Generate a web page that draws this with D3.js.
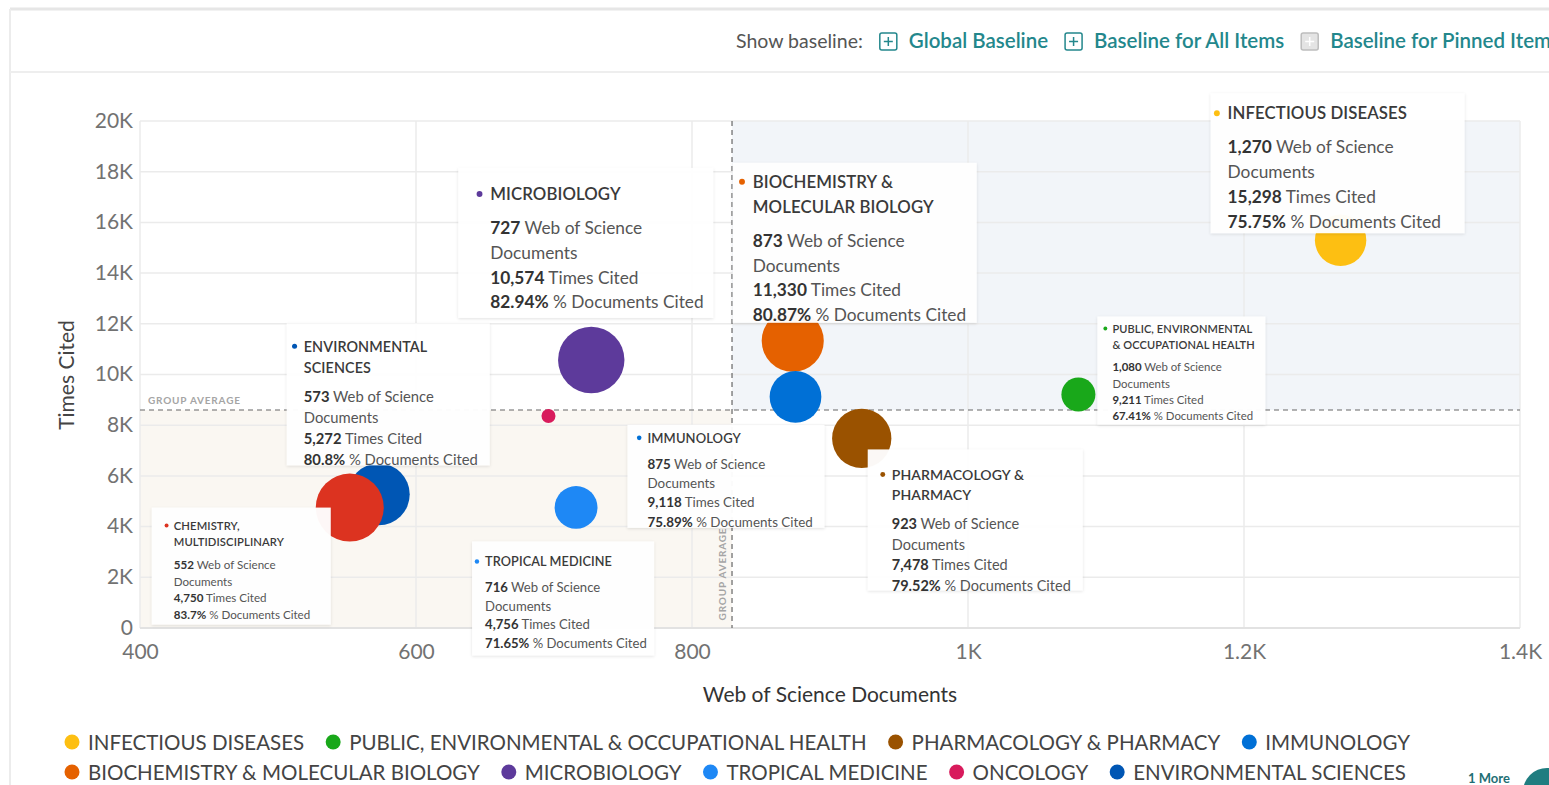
<!DOCTYPE html>
<html>
<head>
<meta charset="utf-8">
<script src="https://d3js.org/d3.v7.min.js"></script>
<style>
  body { margin: 0; background: #fff; }
  svg text { font-family: Lato, "Noto Sans", sans-serif; }
</style>
</head>
<body>
<div id="container"></div>
<script>
// ---- data ----
var categories = ["INFECTIOUS DISEASES", "PUBLIC, ENVIRONMENTAL & OCCUPATIONAL HEALTH", "PHARMACOLOGY & PHARMACY",
  "IMMUNOLOGY", "BIOCHEMISTRY & MOLECULAR BIOLOGY", "MICROBIOLOGY", "TROPICAL MEDICINE", "ONCOLOGY",
  "ENVIRONMENTAL SCIENCES", "CHEMISTRY, MULTIDISCIPLINARY"];
var documents = [1270, 1080, 923, 875, 873, 727, 716, 696, 573, 552];
var timesCited = [15298, 9211, 7478, 9118, 11330, 10574, 4756, 8360, 5272, 4750];
var pctCited = [75.75, 67.41, 79.52, 75.89, 80.87, 82.94, 71.65, 57.8, 80.8, 83.7];
var colors = ["#fdbf12", "#19a81a", "#9a5200", "#0070d6", "#e56100", "#5d3a9b", "#1e88f5", "#d81b5c", "#0056b4", "#dc3320"];
var titleLines = [["INFECTIOUS DISEASES"], ["PUBLIC, ENVIRONMENTAL", "& OCCUPATIONAL HEALTH"], ["PHARMACOLOGY &", "PHARMACY"],
  ["IMMUNOLOGY"], ["BIOCHEMISTRY &", "MOLECULAR BIOLOGY"], ["MICROBIOLOGY"], ["TROPICAL MEDICINE"], null,
  ["ENVIRONMENTAL", "SCIENCES"], ["CHEMISTRY,", "MULTIDISCIPLINARY"]];
var xTicks = [400, 600, 800, 1000, 1200, 1400];
var yTicks = [0, 2000, 4000, 6000, 8000, 10000, 12000, 14000, 16000, 18000, 20000];
var avgDocuments = 829;
var avgTimesCited = 8600;
var legendRows = [[0, 1, 2, 3], [4, 5, 6, 7, 8]];
var baselineLinks = ["Global Baseline", "Baseline for All Items", "Baseline for Pinned Items"];

// tooltip box placement (relative to bubble) and text size
var tips = [
  {i: 0, dx: -130, dy: -147, w: 254, h: 140, fs: 17.3, pad: 17, top: 20},
  {i: 4, dx: -60, dy: -178, w: 244, h: 160, fs: 17.3, pad: 20, top: 19},
  {i: 5, dx: -133, dy: -192, w: 255, h: 150, fs: 17.3, pad: 32, top: 26},
  {i: 8, dx: -92, dy: -171, w: 203, h: 142, fs: 14.8, pad: 17, top: 23},
  {i: 1, dx: 19, dy: -78, w: 168, h: 108, fs: 11.4, pad: 15, top: 12},
  {i: 3, dx: -168, dy: 28, w: 197, h: 103, fs: 13.4, pad: 20, top: 13},
  {i: 2, dx: 6, dy: 11, w: 215, h: 141, fs: 14.5, pad: 24, top: 25},
  {i: 9, dx: -198, dy: 0, w: 179, h: 117, fs: 11.6, pad: 22, top: 18},
  {i: 6, dx: -104, dy: 34, w: 182, h: 114, fs: 13.1, pad: 13, top: 20}
];

var width = 1549, height = 785;
var svg = d3.select("#container").append("svg")
  .attr("width", width).attr("height", height);

var defs = svg.append("defs");
defs.append("filter").attr("id", "shadow").attr("x", "-10%").attr("y", "-10%").attr("width", "120%").attr("height", "130%")
  .append("feDropShadow").attr("dx", 0).attr("dy", 1).attr("stdDeviation", 1.5)
  .attr("flood-color", "#000").attr("flood-opacity", 0.12);

// card frame + header
svg.append("line").attr("x1", 10).attr("x2", width).attr("y1", 9).attr("y2", 9).attr("stroke", "#e6e6e6").attr("stroke-width", 3);
svg.append("line").attr("x1", 10).attr("x2", 10).attr("y1", 9).attr("y2", height).attr("stroke", "#ececec").attr("stroke-width", 2);
svg.append("line").attr("x1", 10).attr("x2", width).attr("y1", 72).attr("y2", 72).attr("stroke", "#eeeeee").attr("stroke-width", 2);

var header = svg.append("g");
var hx = 736;
var showTxt = header.append("text").attr("x", hx).attr("y", 48).attr("font-size", 19.5).attr("fill", "#555").text("Show baseline:");
hx += showTxt.node().getComputedTextLength() + 17;
baselineLinks.forEach(function(t, k) {
  var disabled = k === 2;
  var c = disabled ? "#bdbdbd" : "#23878c";
  header.append("rect").attr("x", hx).attr("y", 33).attr("width", 17).attr("height", 17).attr("rx", 2)
    .attr("fill", disabled ? "#e4e4e4" : "#fff").attr("stroke", c).attr("stroke-width", 1.5);
  header.append("path").attr("d", "M" + (hx + 4) + "," + 41.5 + "H" + (hx + 13) + "M" + (hx + 8.5) + ",37V46")
    .attr("stroke", disabled ? "#fff" : c).attr("stroke-width", 1.5);
  hx += 29;
  var lt = header.append("text").attr("x", hx).attr("y", 48).attr("font-size", 20.5).attr("font-weight", 600)
    .attr("fill", "#23878c").text(t);
  hx += lt.node().getComputedTextLength() + 17;
});

// scales
var x = d3.scaleLinear().domain([400, 1400]).range([140, 1520]);
var y = d3.scaleLinear().domain([0, 20000]).range([628, 121]);
var r = d3.scaleLinear().domain([57.8, 83.7]).range([7, 34]);
var fmtK = function(d) { return d >= 1000 ? (d / 1000) + "K" : String(d); };

var plot = svg.append("g");
// quadrant shading
plot.append("rect").attr("x", x(400)).attr("y", y(avgTimesCited))
  .attr("width", x(avgDocuments) - x(400)).attr("height", y(0) - y(avgTimesCited)).attr("fill", "#faf7f2");
plot.append("rect").attr("x", x(avgDocuments)).attr("y", y(20000))
  .attr("width", x(1400) - x(avgDocuments)).attr("height", y(avgTimesCited) - y(20000)).attr("fill", "#f2f5f9");

// grid
plot.selectAll(".vg").data(xTicks).enter().append("line")
  .attr("x1", function(d) { return x(d); }).attr("x2", function(d) { return x(d); })
  .attr("y1", y(20000)).attr("y2", y(0)).attr("stroke", "#ebebeb").attr("stroke-width", 1.5);
plot.selectAll(".hg").data(yTicks).enter().append("line")
  .attr("x1", x(400)).attr("x2", x(1400))
  .attr("y1", function(d) { return y(d); }).attr("y2", function(d) { return y(d); })
  .attr("stroke", "#ebebeb").attr("stroke-width", 1.5);
plot.append("line").attr("x1", x(400)).attr("x2", x(1400)).attr("y1", y(0)).attr("y2", y(0))
  .attr("stroke", "#e2e2e2").attr("stroke-width", 2);

// axes
var yAxis = svg.append("g").attr("transform", "translate(" + (x(400) - 2) + ",0)")
  .call(d3.axisLeft(y).tickValues(yTicks).tickFormat(fmtK).tickSize(0).tickPadding(5));
var xAxis = svg.append("g").attr("transform", "translate(0," + (y(0) + 11) + ")")
  .call(d3.axisBottom(x).tickValues(xTicks).tickFormat(fmtK).tickSize(0).tickPadding(5));
[yAxis, xAxis].forEach(function(a) {
  a.select(".domain").remove();
  a.selectAll("text").attr("font-size", 21).attr("fill", "#727272").attr("font-family", "Lato, sans-serif");
});
yAxis.selectAll("text").attr("dy", "0.3em");

svg.append("text").attr("transform", "translate(74,375) rotate(-90)").attr("text-anchor", "middle")
  .attr("font-size", 21).attr("fill", "#444").text("Times Cited");
svg.append("text").attr("x", 830).attr("y", 702).attr("text-anchor", "middle")
  .attr("font-size", 21).attr("fill", "#333").text("Web of Science Documents");

// group average lines
plot.append("line").attr("x1", x(400)).attr("x2", x(1400)).attr("y1", y(avgTimesCited)).attr("y2", y(avgTimesCited))
  .attr("stroke", "#666").attr("stroke-width", 1.2).attr("stroke-dasharray", "5,4");
plot.append("line").attr("x1", x(avgDocuments)).attr("x2", x(avgDocuments)).attr("y1", y(20000)).attr("y2", y(0))
  .attr("stroke", "#666").attr("stroke-width", 1.2).attr("stroke-dasharray", "5,4");
plot.append("text").attr("x", x(400) + 8).attr("y", y(avgTimesCited) - 6).attr("font-size", 10).attr("font-weight", 700)
  .attr("letter-spacing", 0.8).attr("fill", "#a5a5a5").text("GROUP AVERAGE");
plot.append("text").attr("transform", "translate(" + (x(avgDocuments) - 6) + "," + (y(0) - 54) + ") rotate(-90)")
  .attr("text-anchor", "middle").attr("font-size", 10).attr("font-weight", 700)
  .attr("letter-spacing", 0.8).attr("fill", "#a5a5a5").text("GROUP AVERAGE");

// bubbles, drawn from most to least cited
var idx = d3.range(categories.length).sort(function(a, b) { return timesCited[b] - timesCited[a]; });
plot.selectAll(".bubble").data(idx).enter().append("circle")
  .attr("cx", function(i) { return x(documents[i]); })
  .attr("cy", function(i) { return y(timesCited[i]); })
  .attr("r", function(i) { return r(pctCited[i]); })
  .attr("fill", function(i) { return colors[i]; });

// tooltips
var fmt = d3.format(",");
tips.forEach(function(t) {
  var i = t.i;
  var bx = x(documents[i]) + t.dx, by = y(timesCited[i]) + t.dy;
  var g = svg.append("g").attr("transform", "translate(" + bx + "," + by + ")");
  g.append("rect").attr("width", t.w).attr("height", t.h).attr("fill", "#fff").attr("fill-opacity", 0.96)
    .attr("filter", "url(#shadow)");
  var fs = t.fs, step = fs * 1.43;
  g.append("circle").attr("cx", t.pad - fs * 0.62).attr("cy", t.top).attr("r", fs * 0.17).attr("fill", colors[i]);
  var ty = t.top + fs * 0.36;
  titleLines[i].forEach(function(line, k) {
    g.append("text").attr("x", t.pad).attr("y", ty + k * step).attr("font-size", fs * 0.97).attr("font-weight", 600)
      .attr("fill", "#3a3a3a").attr("letter-spacing", 0.1).text(line);
  });
  var dy0 = ty + (titleLines[i].length - 1) * step + fs * 1.97;
  var rows = [[fmt(documents[i]), " Web of Science"], ["", "Documents"],
    [fmt(timesCited[i]), " Times Cited"], [pctCited[i] + "%", " % Documents Cited"]];
  rows.forEach(function(row, k) {
    var tx = g.append("text").attr("x", t.pad).attr("y", dy0 + k * step).attr("font-size", fs);
    tx.append("tspan").attr("font-weight", 700).attr("fill", "#333").text(row[0]);
    tx.append("tspan").attr("fill", "#555").text(row[1]);
  });
});

// legend
legendRows.forEach(function(row, ri) {
  var ly = 742 + ri * 30, lx = 72;
  row.forEach(function(i) {
    svg.append("circle").attr("cx", lx).attr("cy", ly).attr("r", 7.5).attr("fill", colors[i]);
    var lt = svg.append("text").attr("x", lx + 16).attr("y", ly + 8).attr("font-size", 20.5)
      .attr("fill", "#444").text(categories[i]);
    lx += 16 + lt.node().getComputedTextLength() + 29;
  });
});
svg.append("text").attr("x", 1468).attr("y", 783).attr("font-size", 13).attr("font-weight", 700)
  .attr("fill", "#1f6f75").text("1 More");
svg.append("circle").attr("cx", 1547).attr("cy", 792).attr("r", 24).attr("fill", "#1f7d80");
</script>
</body>
</html>
